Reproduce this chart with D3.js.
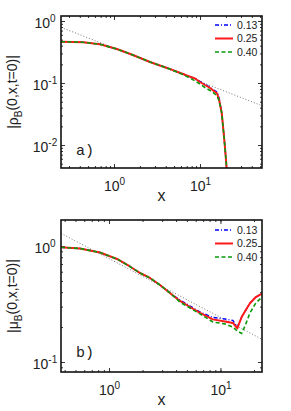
<!DOCTYPE html>
<html>
<head>
<meta charset="utf-8">
<script src="https://cdn.jsdelivr.net/npm/d3@7"></script>
<style>
  body { margin: 0; background: #fff; }
  svg { display: block; font-family: "Liberation Sans", Arial, sans-serif; }
</style>
</head>
<body>
<svg id="chart" width="291" height="411"></svg>
<script>
// ---- data ----
const seriesNames = ['0.13', '0.25', '0.40'];

// panel a) |rho_B(0,x,t=0)|
const xA     = [0.242, 0.44, 0.687, 1.08, 1.66, 2.62, 4.14, 6.35, 7.64, 8.76, 10, 11.4, 13.1, 14.5, 15.8, 16.7, 17.9, 18.7, 19.5, 20.4, 20.8];
const blueA  = [0.464, 0.453, 0.421, 0.353, 0.283, 0.218, 0.175, 0.140, 0.127, 0.118, 0.1063, 0.0964, 0.0847, 0.0771, 0.0716, 0.0573, 0.0328, 0.0175, 0.0093, 0.00426, 0.00272];
const redA   = [0.464, 0.453, 0.421, 0.353, 0.283, 0.218, 0.175, 0.140, 0.127, 0.118, 0.1038, 0.0929, 0.0831, 0.0743, 0.0677, 0.0532, 0.0328, 0.0175, 0.0093, 0.00426, 0.00272];
const greenA = [0.464, 0.453, 0.421, 0.353, 0.283, 0.218, 0.175, 0.137, 0.120, 0.108, 0.0964, 0.0847, 0.0757, 0.0688, 0.0617, 0.0513, 0.0328, 0.0175, 0.0093, 0.00426, 0.00272];
const guideA = [[0.242, 0.79], [52.6, 0.043]];

// panel b) |mu_B(0,x,t=0)|
const xB     = [0.371, 0.549, 0.830, 1.18, 1.54, 1.90, 2.33, 2.87, 3.52, 4.33, 5.33, 6.55, 8.56, 10.96, 12.94, 14.15, 15.5, 16.9, 18.4, 20.8, 23.6];
const blueB  = [0.974, 0.952, 0.879, 0.773, 0.666, 0.585, 0.530, 0.461, 0.394, 0.343, 0.304, 0.270, 0.242, 0.235, 0.228, 0.200, 0.244, 0.281, 0.321, 0.363, 0.389];
const redB   = [0.974, 0.952, 0.879, 0.773, 0.666, 0.585, 0.530, 0.461, 0.394, 0.336, 0.298, 0.265, 0.233, 0.223, 0.217, 0.195, 0.244, 0.281, 0.321, 0.363, 0.389];
const greenB = [0.974, 0.952, 0.879, 0.773, 0.666, 0.585, 0.530, 0.461, 0.394, 0.329, 0.292, 0.260, 0.221, 0.213, 0.200, 0.185, 0.176, 0.213, 0.265, 0.323, 0.363];
const guideB = [[0.371, 1.286], [23.6, 0.157]];

const xTicks = [1, 10];
const yTicksA = [1, 0.1, 0.01];
const yTicksB = [1, 0.1];

// ---- styling ----
const styles = [
  { color: '#0000ff', dash: '4,2,1,2', width: 1.4 },
  { color: '#ff1a1a', dash: null, width: 2 },
  { color: '#0a9a0a', dash: '4,2.5', width: 1.6 }
];

const svg = d3.select('#chart');

function panel(cfg) {
  const x = d3.scaleLog().domain(cfg.xDom).range([cfg.left, cfg.right]);
  const y = d3.scaleLog().domain(cfg.yDom).range([cfg.bottom, cfg.top]);
  const g = svg.append('g');

  const clipId = 'clip-' + cfg.name;
  g.append('clipPath').attr('id', clipId).append('rect')
    .attr('x', cfg.left).attr('y', cfg.top)
    .attr('width', cfg.right - cfg.left).attr('height', cfg.bottom - cfg.top);

  // minor ticks on all four sides
  const minorX = x.ticks();
  const minorY = y.ticks();
  g.append('g').attr('transform', `translate(0,${cfg.bottom})`)
    .call(d3.axisBottom(x).tickValues(minorX).tickSizeInner(-2).tickSizeOuter(0).tickFormat(''));
  g.append('g').attr('transform', `translate(0,${cfg.top})`)
    .call(d3.axisTop(x).tickValues(minorX).tickSizeInner(-2).tickSizeOuter(0).tickFormat(''));
  g.append('g').attr('transform', `translate(${cfg.left},0)`)
    .call(d3.axisLeft(y).tickValues(minorY).tickSizeInner(-2).tickSizeOuter(0).tickFormat(''));
  g.append('g').attr('transform', `translate(${cfg.right},0)`)
    .call(d3.axisRight(y).tickValues(minorY).tickSizeInner(-2).tickSizeOuter(0).tickFormat(''));

  // major ticks
  const sup = function (d) {
    const t = d3.select(this).text('');
    t.append('tspan').text('10');
    t.append('tspan').attr('dy', '-0.55em').attr('font-size', '10px').text(Math.round(Math.log10(d)));
  };
  const bx = g.append('g').attr('transform', `translate(0,${cfg.bottom})`)
    .call(d3.axisBottom(x).tickValues(xTicks).tickSizeInner(-4).tickSizeOuter(0).tickPadding(13));
  bx.selectAll('text').attr('font-size', '14px').attr('fill', '#222').each(sup);
  g.append('g').attr('transform', `translate(0,${cfg.top})`)
    .call(d3.axisTop(x).tickValues(xTicks).tickSizeInner(-4).tickSizeOuter(0).tickFormat(''));
  const ly = g.append('g').attr('transform', `translate(${cfg.left},0)`)
    .call(d3.axisLeft(y).tickValues(cfg.yTicks).tickSizeInner(-4).tickSizeOuter(0));
  ly.selectAll('text').attr('font-size', '14px').attr('fill', '#222')
    .attr('text-anchor', 'middle').attr('x', 45 - cfg.left).attr('dy', '0.45em').each(sup);
  g.append('g').attr('transform', `translate(${cfg.right},0)`)
    .call(d3.axisRight(y).tickValues(cfg.yTicks).tickSizeInner(-4).tickSizeOuter(0).tickFormat(''));
  g.selectAll('.domain').remove();
  g.selectAll('.tick line').attr('stroke', '#333');

  // guide line
  const line = d3.line().x(d => x(d[0])).y(d => y(d[1]));
  g.append('path').datum(cfg.guide).attr('d', line)
    .attr('clip-path', `url(#${clipId})`)
    .attr('fill', 'none').attr('stroke', '#777').attr('stroke-width', 1)
    .attr('stroke-dasharray', '1,2');

  // curves
  cfg.series.forEach((vals, i) => {
    const pts = cfg.xs.map((xv, j) => [xv, vals[j]]);
    g.append('path').datum(pts).attr('d', line)
      .attr('clip-path', `url(#${clipId})`)
      .attr('fill', 'none').attr('stroke', styles[i].color)
      .attr('stroke-width', styles[i].width)
      .attr('stroke-linejoin', 'round')
      .attr('stroke-dasharray', styles[i].dash);
  });

  // box
  g.append('rect').attr('x', cfg.left).attr('y', cfg.top)
    .attr('width', cfg.right - cfg.left).attr('height', cfg.bottom - cfg.top)
    .attr('fill', 'none').attr('stroke', '#111').attr('stroke-width', 1.6);

  // legend
  seriesNames.forEach((name, i) => {
    const ly0 = cfg.legendTop + i * 13.5;
    g.append('line').attr('x1', 215).attr('x2', 233).attr('y1', ly0).attr('y2', ly0)
      .attr('stroke', styles[i].color).attr('stroke-width', styles[i].width)
      .attr('stroke-dasharray', styles[i].dash);
    g.append('text').attr('x', 237).attr('y', ly0 + 3.8)
      .attr('font-size', '10.5px').attr('fill', '#222').text(name);
  });

  // panel tag
  g.append('text').attr('x', 76).attr('y', cfg.tagY)
    .attr('font-family', '"Liberation Mono", "DejaVu Sans Mono", monospace')
    .attr('font-size', '15px').attr('fill', '#222').text(cfg.tag);

  // axis labels
  g.append('text').attr('x', (cfg.left + cfg.right) / 2).attr('y', cfg.bottom + 33)
    .attr('text-anchor', 'middle').attr('font-size', '16px').attr('fill', '#222').text('x');
  const yl = g.append('text')
    .attr('transform', `translate(18,${(cfg.top + cfg.bottom) / 2}) rotate(-90)`)
    .attr('text-anchor', 'middle').attr('font-size', '14px').attr('fill', '#222');
  yl.append('tspan').text('|' + cfg.sym);
  yl.append('tspan').attr('dy', '0.35em').attr('font-size', '10px').text('B');
  yl.append('tspan').attr('dy', '-0.35em').text('(0,x,t=0)|');
}

panel({
  name: 'a', left: 61, right: 262, top: 16, bottom: 168,
  xDom: [0.242, 52.6], yDom: [0.00426, 1.204], yTicks: yTicksA,
  xs: xA, series: [blueA, redA, greenA], guide: guideA,
  legendTop: 25, tag: 'a)', tagY: 155, sym: 'ρ'
});

panel({
  name: 'b', left: 61, right: 262, top: 220, bottom: 372,
  xDom: [0.371, 23.6], yDom: [0.082, 1.675], yTicks: yTicksB,
  xs: xB, series: [blueB, redB, greenB], guide: guideB,
  legendTop: 230, tag: 'b)', tagY: 357, sym: 'μ'
});
</script>
</body>
</html>
